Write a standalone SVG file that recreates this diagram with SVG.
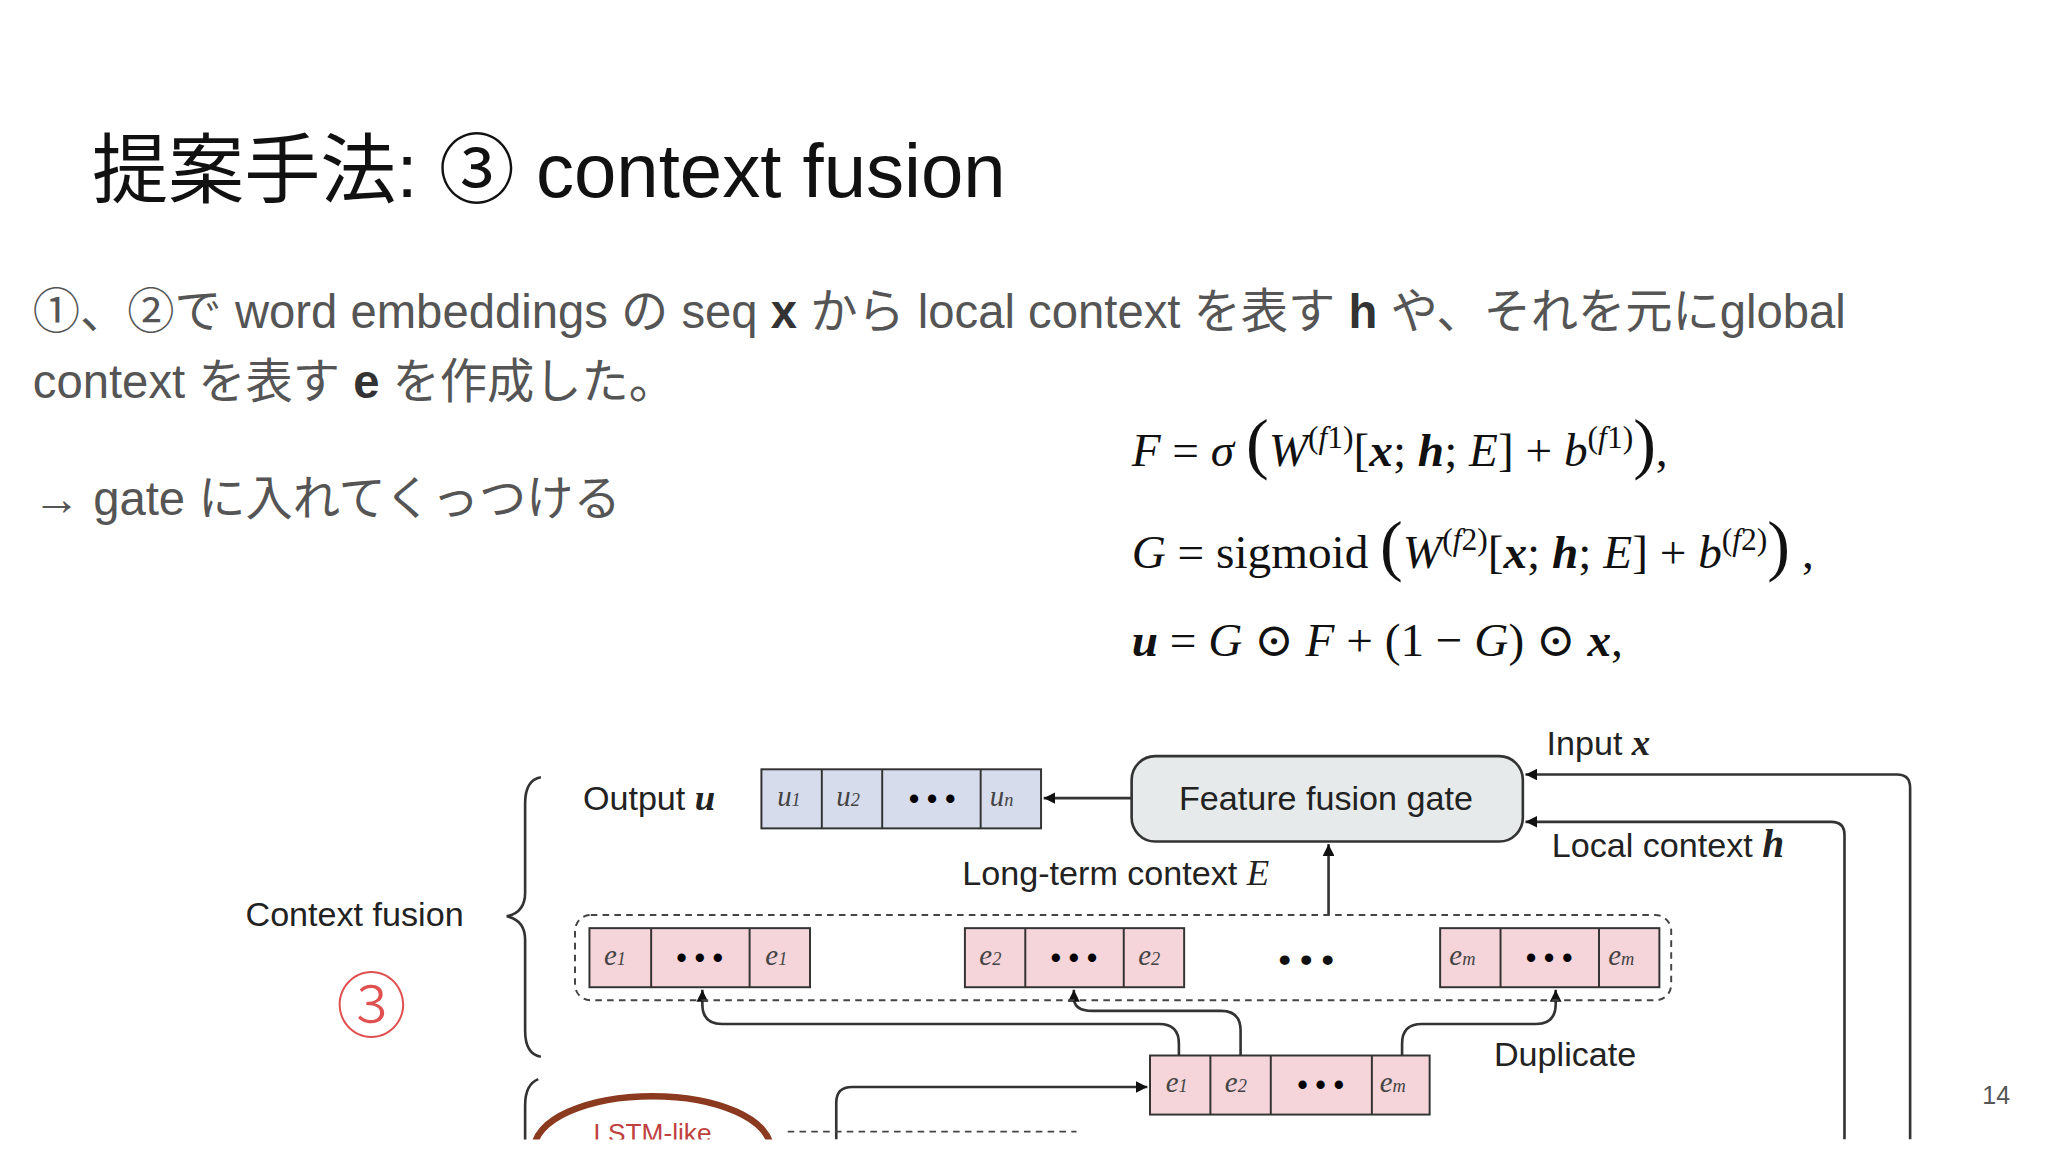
<svg xmlns="http://www.w3.org/2000/svg" width="2048" height="1152" viewBox="0 0 2048 1152">
<style>
.t{font-family:"Liberation Sans","Noto Sans CJK JP",sans-serif}
.m{font-family:"Liberation Serif","DejaVu Serif",serif;font-size:36px;fill:#111}
.d{font-family:"Liberation Sans",sans-serif;font-size:26px;fill:#222}
.v{font-family:"Liberation Serif",serif;font-style:italic;font-size:22px;fill:#444}
.c{stroke:#333;stroke-width:1.5}
.l{fill:none;stroke:#333;stroke-width:2}
</style>
<defs>
<marker id="a" viewBox="0 0 10 10" refX="10" refY="5" markerWidth="9" markerHeight="9" orient="auto" markerUnits="userSpaceOnUse"><path d="M0,0L10,5L0,10z" fill="#111"/></marker>
<clipPath id="cp"><rect x="0" y="0" width="1560" height="868"/></clipPath>
</defs>
<rect width="2048" height="1152" fill="#fff"/>
<g transform="scale(1.3128)">
<text class="t" x="70" y="150" font-size="58" fill="#111">提案手法: ③ context fusion</text>
<text class="t" x="25" y="250" font-size="36" fill="#555">①、②で word embeddings の seq <tspan font-weight="bold" fill="#333">x</tspan> から local context を表す <tspan font-weight="bold" fill="#333">h</tspan> や、それを元にglobal</text>
<text class="t" x="25" y="303" font-size="36" fill="#555">context を表す <tspan font-weight="bold" fill="#333">e</tspan> を作成した。</text>
<text class="t" x="25" y="392" font-size="36" fill="#555">→ gate に入れてくっつける</text>
<text class="m" x="862" y="355"><tspan font-style="italic">F</tspan> = <tspan font-style="italic">σ</tspan> <tspan font-size="52">(</tspan><tspan font-style="italic">W</tspan><tspan font-size="24" dy="-14">(<tspan font-style="italic">f</tspan>1)</tspan><tspan dy="14">[<tspan font-weight="bold" font-style="italic">x</tspan>; <tspan font-weight="bold" font-style="italic">h</tspan>; <tspan font-style="italic">E</tspan>] + <tspan font-style="italic">b</tspan></tspan><tspan font-size="24" dy="-14">(<tspan font-style="italic">f</tspan>1)</tspan><tspan dy="14" font-size="52">)</tspan>,</text>
<text class="m" x="862" y="433"><tspan font-style="italic">G</tspan> = sigmoid <tspan font-size="52">(</tspan><tspan font-style="italic">W</tspan><tspan font-size="24" dy="-14">(<tspan font-style="italic">f</tspan>2)</tspan><tspan dy="14">[<tspan font-weight="bold" font-style="italic">x</tspan>; <tspan font-weight="bold" font-style="italic">h</tspan>; <tspan font-style="italic">E</tspan>] + <tspan font-style="italic">b</tspan></tspan><tspan font-size="24" dy="-14">(<tspan font-style="italic">f</tspan>2)</tspan><tspan dy="14" font-size="52">)</tspan> ,</text>
<text class="m" x="862" y="500"><tspan font-weight="bold" font-style="italic">u</tspan> = <tspan font-style="italic">G</tspan> ⊙ <tspan font-style="italic">F</tspan> + (1 − <tspan font-style="italic">G</tspan>) ⊙ <tspan font-weight="bold" font-style="italic">x</tspan>,</text>
<text class="t" x="1510" y="841" font-size="19" fill="#555">14</text>
<g clip-path="url(#cp)">
<g id="connectors">
<path class="l" d="M862,608H795" marker-end="url(#a)"/>
<path class="l" d="M1455,868V600q0,-10 -10,-10H1162" marker-end="url(#a)"/>
<path class="l" d="M1405,868V636q0,-10 -10,-10H1162" marker-end="url(#a)"/>
<path class="l" d="M1012,697V643" marker-end="url(#a)"/>
<path class="l" d="M898,804V795q0,-15 -15,-15H550q-15,0 -15,-15V754" marker-end="url(#a)"/>
<path class="l" d="M945,804V785q0,-15 -15,-15H832q-14,0 -14,-10V754" marker-end="url(#a)"/>
<path class="l" d="M1068,804V795q0,-15 15,-15H1170q15,0 15,-15V754" marker-end="url(#a)"/>
<path class="l" d="M637,868V840q0,-12 12,-12H874" marker-end="url(#a)"/>
</g>
<g id="output">
<text class="d" x="444" y="617">Output <tspan font-family="Liberation Serif" font-style="italic" font-weight="bold" font-size="28">u</tspan></text>
<rect x="580" y="586" width="213" height="45" fill="#d6dcec" class="c"/>
<path class="c" d="M626,586V631M672,586V631M747,586V631"/>
<text class="v" x="592" y="614">u<tspan font-size="14">1</tspan></text>
<text class="v" x="637" y="614">u<tspan font-size="14">2</tspan></text>
<text class="t" x="710" y="616" font-size="22" text-anchor="middle" font-weight="bold">• • •</text>
<text class="v" x="754" y="614">u<tspan font-size="14">n</tspan></text>
</g>
<g id="gate">
<rect x="862" y="576" width="298" height="65" rx="18" fill="#e6eaea" stroke="#333" stroke-width="2"/>
<text class="d" x="1010" y="617" text-anchor="middle">Feature fusion gate</text>
</g>
<text class="d" x="1178" y="575">Input <tspan font-family="Liberation Serif" font-style="italic" font-weight="bold" font-size="28">x</tspan></text>
<text class="d" x="1182" y="653">Local context <tspan font-family="Liberation Serif" font-style="italic" font-weight="bold" font-size="30">h</tspan></text>
<text class="d" x="733" y="674">Long-term context <tspan font-family="Liberation Serif" font-style="italic" font-size="28">E</tspan></text>
<g id="longterm">
<rect x="438" y="697" width="835" height="65" rx="12" fill="none" stroke="#444" stroke-width="1.5" stroke-dasharray="5,4"/>
<rect x="449" y="707" width="168" height="45" fill="#f5d5da" class="c"/>
<path class="c" d="M496,707V752M571,707V752"/>
<text class="v" x="460" y="735">e<tspan font-size="14">1</tspan></text>
<text class="t" x="533" y="737" font-size="22" text-anchor="middle" font-weight="bold">• • •</text>
<text class="v" x="583" y="735">e<tspan font-size="14">1</tspan></text>
<rect x="735" y="707" width="167" height="45" fill="#f5d5da" class="c"/>
<path class="c" d="M781,707V752M856,707V752"/>
<text class="v" x="746" y="735">e<tspan font-size="14">2</tspan></text>
<text class="t" x="818" y="737" font-size="22" text-anchor="middle" font-weight="bold">• • •</text>
<text class="v" x="867" y="735">e<tspan font-size="14">2</tspan></text>
<text class="t" x="995" y="740" font-size="26" text-anchor="middle" font-weight="bold" fill="#111">• • •</text>
<rect x="1097" y="707" width="167" height="45" fill="#f5d5da" class="c"/>
<path class="c" d="M1143,707V752M1218,707V752"/>
<text class="v" x="1104" y="735">e<tspan font-size="14">m</tspan></text>
<text class="t" x="1180" y="737" font-size="22" text-anchor="middle" font-weight="bold">• • •</text>
<text class="v" x="1225" y="735">e<tspan font-size="14">m</tspan></text>
</g>
<g id="dup">
<rect x="876" y="804" width="213" height="45" fill="#f5d5da" class="c"/>
<path class="c" d="M922,804V849M968,804V849M1045,804V849"/>
<text class="v" x="888" y="832">e<tspan font-size="14">1</tspan></text>
<text class="v" x="933" y="832">e<tspan font-size="14">2</tspan></text>
<text class="t" x="1006" y="834" font-size="22" text-anchor="middle" font-weight="bold">• • •</text>
<text class="v" x="1051" y="832">e<tspan font-size="14">m</tspan></text>
<text class="d" x="1138" y="812">Duplicate</text>
</g>
<g id="fusion">
<path class="l" d="M412,592q-12,2 -12,20V680q0,15 -14,18q14,3 14,18V785q0,18 12,20"/>
<text class="d" x="187" y="705">Context fusion</text>
<text class="t" x="283" y="785" font-size="54" fill="#e05050" text-anchor="middle" font-weight="300">③</text>
</g>
<g id="lstm">
<path class="l" d="M410,822q-10,4 -10,20V870"/>
<ellipse cx="497" cy="875" rx="90" ry="40" fill="none" stroke="#8b3a20" stroke-width="5"/>
<text class="t" x="497" y="870" font-size="20" fill="#c04040" text-anchor="middle">LSTM-like</text>
<path d="M600,862H820" stroke="#444" stroke-width="1.5" stroke-dasharray="5,4" fill="none"/>
</g>
</g>
</g>
</svg>
